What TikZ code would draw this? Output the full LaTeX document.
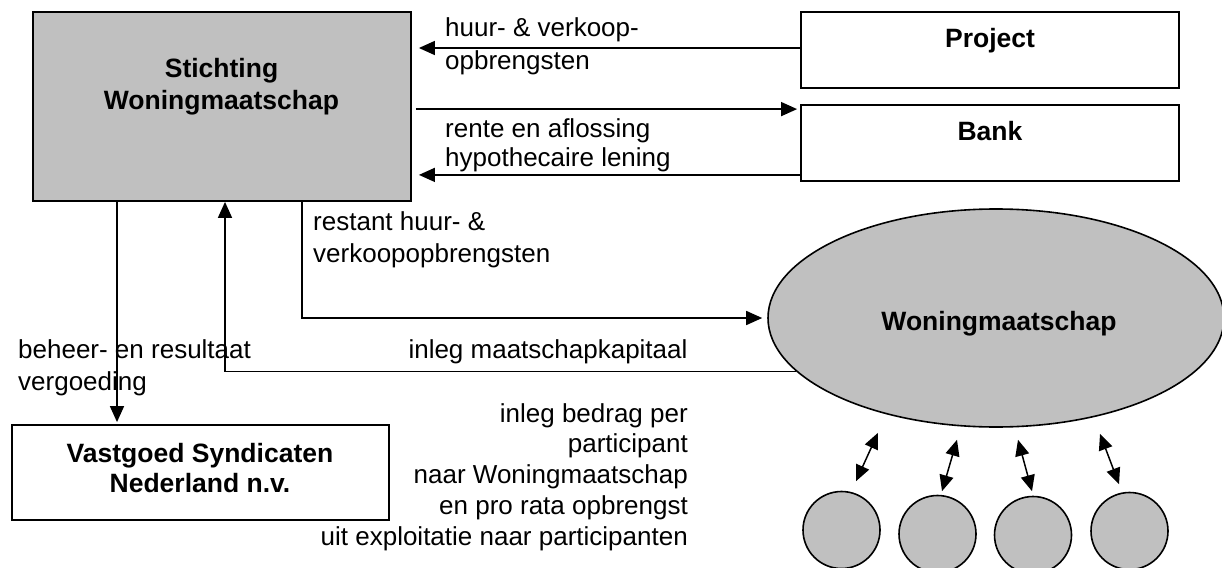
\documentclass[tikz,border=0pt]{standalone}
\usepackage{fontspec}
\setmainfont{Liberation Sans}
\usetikzlibrary{arrows.meta,shapes.geometric,calc}
\definecolor{fillgray}{HTML}{C0C0C0}
\begin{document}
\begin{tikzpicture}[x=1pt,y=-1pt,
  every node/.style={font=\fontsize{26}{31}\selectfont},
  box/.style={draw, line width=1.8pt, rectangle, inner sep=0pt},
  shp/.style={draw, line width=1.6pt, fill=fillgray, inner sep=0pt},
  lblw/.style={inner sep=0pt, anchor=base west},
  lble/.style={inner sep=0pt, anchor=base east},
  lblc/.style={inner sep=0pt, anchor=base},
  btxt/.style={inner sep=0pt, anchor=base, font=\fontsize{26.5}{31}\selectfont\bfseries},
  arr/.style={line width=1.5pt, -{Triangle[length=16pt,width=14pt]}},
  darr/.style={line width=1.5pt, {Triangle[length=16pt,width=14pt]}-{Triangle[length=16pt,width=14pt]}}
]
\useasboundingbox (0,0) rectangle (1222,567);
\clip (0,0) rectangle (1222,567);

% boxes
\node[box, fill=fillgray, minimum width=378pt, minimum height=189pt] (stich) at (222,106.5) {};
\node[btxt] (stichT1) at (221.5,78) {Stichting};
\node[btxt] (stichT2) at (221.5,110) {Woningmaatschap};

\node[box, minimum width=378pt, minimum height=76pt] (project) at (990,50) {};
\node[btxt] (projT) at (990,48) {Project};

\node[box, minimum width=378pt, minimum height=76pt] (bank) at (990,143) {};
\node[btxt] (bankT) at (990,140) {Bank};

\node[box, minimum width=377pt, minimum height=95pt] (vsn) at (200.5,472.5) {};
\node[btxt] (vsnT1) at (200,462) {Vastgoed Syndicaten};
\node[btxt] (vsnT2) at (200,492) {Nederland n.v.};

\node[shp, ellipse, minimum width=456pt, minimum height=218pt] (wm) at (996,318) {};
\node[btxt] (wmT) at (999,330) {Woningmaatschap};

\node[shp, circle, minimum size=77pt] (c1) at (841.5,530) {};
\node[shp, circle, minimum size=77pt] (c2) at (937.5,534) {};
\node[shp, circle, minimum size=77pt] (c3) at (1033,535) {};
\node[shp, circle, minimum size=77pt] (c4) at (1129.5,531) {};

% labels
\node[lblw] (l1a) at (445,37) {huur- \& verkoop-};
\node[lblw] (l1b) at (445,70) {opbrengsten};
\node[lblw] (l2a) at (445,137) {rente en aflossing};
\node[lblw] (l2b) at (445,166) {hypothecaire lening};
\node[lblw] (l3a) at (313,230) {restant huur- \&};
\node[lblw] (l3b) at (313,262) {verkoopopbrengsten};
\node[lblc] (l4) at (548,358) {inleg maatschapkapitaal};
\node[lblw] (l5a) at (18,358) {beheer- en resultaat};
\node[lblw] (l5b) at (18,390) {vergoeding};
\node[lble] (l6a) at (688,422) {inleg bedrag per};
\node[lble] (l6b) at (688,452) {participant};
\node[lble] (l6c) at (688,483) {naar Woningmaatschap};
\node[lble] (l6d) at (688,514) {en pro rata opbrengst};
\node[lble] (l6e) at (688,545) {uit exploitatie naar participanten};

% connectors
\draw[arr] ($(project.west)+(0,-2)$) -- ($(stich.east |- project.west)+(7,-2)$);
\draw[arr] ($(stich.east |- bank.north)+(4,5)$) -- ($(bank.north west)+(-3,5)$);
\draw[arr] ($(bank.south west)+(0,-7)$) -- ($(stich.east |- bank.south)+(7,-7)$);

\coordinate (s1) at ($(stich.south)+(-105,0)$);
\draw[arr, shorten >=2pt] (s1) -- (s1 |- vsn.north);

\coordinate (s2) at ($(stich.south)+(80,0)$);
\draw[arr, shorten >=5pt] (s2) |- (wm.west);

\coordinate (s3) at ($(stich.south)+(3,0)$);
\draw[arr] (wm.195) -| (s3);

\draw[darr] ($(wm.south)+(-118,5)$) -- ($(c1.north)+(14.5,-9.5)$);
\draw[darr] ($(wm.south)+(-39,12)$) -- ($(c2.north)+(4.5,-3.5)$);
\draw[darr] ($(wm.south)+(22,12)$) -- ($(c3.north)+(-1,-4.5)$);
\draw[darr] ($(wm.south)+(104,6)$) -- ($(c4.north)+(-10.5,-7.5)$);
\end{tikzpicture}
\end{document}
